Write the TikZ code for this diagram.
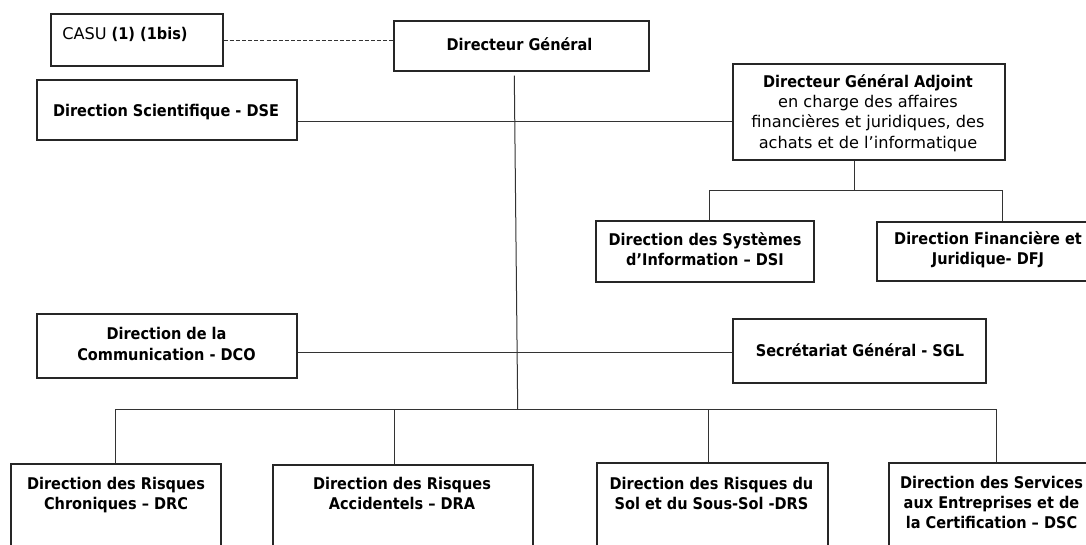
\documentclass[tikz,border=0pt]{standalone}
\usepackage{fontspec}
\setmainfont{DejaVu Sans}[BoldFeatures={FakeStretch=0.9}]
\usetikzlibrary{fit}
\newcommand\dfont{\fontsize{12.1pt}{15.2pt}\selectfont}
\begin{document}
\begin{tikzpicture}[x=0.75pt,y=-0.75pt,
  box/.style={draw=black!85, line width=0.9pt, inner sep=0pt},
  conn/.style={draw=black!80, line width=0.75pt},
  lbl/.style={align=center, inner sep=0pt, font=\dfont\bfseries},
  lbln/.style={align=center, inner sep=0pt, font=\dfont}]
\useasboundingbox (0,0) rectangle (1086,544);
\clip (0,0) rectangle (1086,544);
\fill[white] (0,0) rectangle (1086,544);

% boxes
\node[box, fit={(51,14)(223,66)}] (casu) {};
\node[box, fit={(394,21)(649,71)}] (dg) {};
\node[box, fit={(37,80)(297,140)}] (dse) {};
\node[box, fit={(733,64)(1005,160)}] (dga) {};
\node[box, fit={(596,221)(814,282)}] (dsi) {};
\node[box, fit={(877,222)(1100,281)}] (dfj) {};
\node[box, fit={(37,314)(297,378)}] (dco) {};
\node[box, fit={(733,319)(986,383)}] (sgl) {};
\node[box, fit={(11,464)(221,560)}] (drc) {};
\node[box, fit={(273,465)(533,560)}] (dra) {};
\node[box, fit={(597,463)(828,560)}] (drs) {};
\node[box, fit={(889,463)(1095,560)}] (dsc) {};

% texts
\node[lbln, anchor=base west] (tcasu) at (62,39) {CASU \textbf{(1) (1bis)}};
\node[lbl, anchor=base] (tdg) at (519.5,50) {Directeur Général};
\node[lbl, anchor=base] (tdse) at (166,116) {Direction Scientifique - DSE};
\node[lbln] (tdga) at (868,113) {\textbf{Directeur Général Adjoint}\\en charge des affaires\\financières et juridiques, des\\achats et de l’informatique};
\node[lbl] (tdsi) at (705,249) {Direction des Systèmes\\d’Information – DSI};
\node[lbl] (tdfj) at (988,250) {Direction Financière et\\Juridique- DFJ};
\node[lbl] (tdco) at (166.5,344) {Direction de la\\Communication - DCO};
\node[lbl, anchor=base] (tsgl) at (860,356) {Secrétariat Général - SGL};
\node[lbl, anchor=north] (tdrc) at (116,476.5) {Direction des Risques\\Chroniques – DRC};
\node[lbl, anchor=north] (tdra) at (402,476.5) {Direction des Risques\\Accidentels – DRA};
\node[lbl, anchor=north] (tdrs) at (711.5,476.5) {Direction des Risques du\\Sol et du Sous-Sol -DRS};
\node[lbl, anchor=north] (tdsc) at (991.5,475.5) {Direction des Services\\aux Entreprises et de\\la Certification – DSC};

% helper coordinates
\coordinate (yA) at (0,40);
\coordinate (yB) at (0,121);
\coordinate (yC) at (0,352);
\coordinate (vt) at (514.3,75.7);
\coordinate (vb) at (517.7,409);
\coordinate (ga) at (854,190);
\coordinate (gl) at (709,190);
\coordinate (gr) at (1002,190);
\coordinate (b1) at (115,409);
\coordinate (b2) at (394,409);
\coordinate (b3) at (708,409);
\coordinate (b4) at (996,409);

% connectors
\draw[conn, dash pattern=on 3pt off 1.6pt] (casu.east |- yA) -- (dg.west |- yA);
\draw[conn] (vt) -- (vb);
\draw[conn] (dse.east |- yB) -- (dga.west |- yB);
\draw[conn] (dco.east |- yC) -- (sgl.west |- yC);
\draw[conn] (dga.south -| ga) -- (ga);
\draw[conn] (dsi.north -| gl) -- (gl) -- (gr) -- (dfj.north -| gr);
\draw[conn] (drc.north -| b1) -- (b1) -- (b4) -- (dsc.north -| b4);
\draw[conn] (b2) -- (dra.north -| b2);
\draw[conn] (b3) -- (drs.north -| b3);
\end{tikzpicture}
\end{document}
